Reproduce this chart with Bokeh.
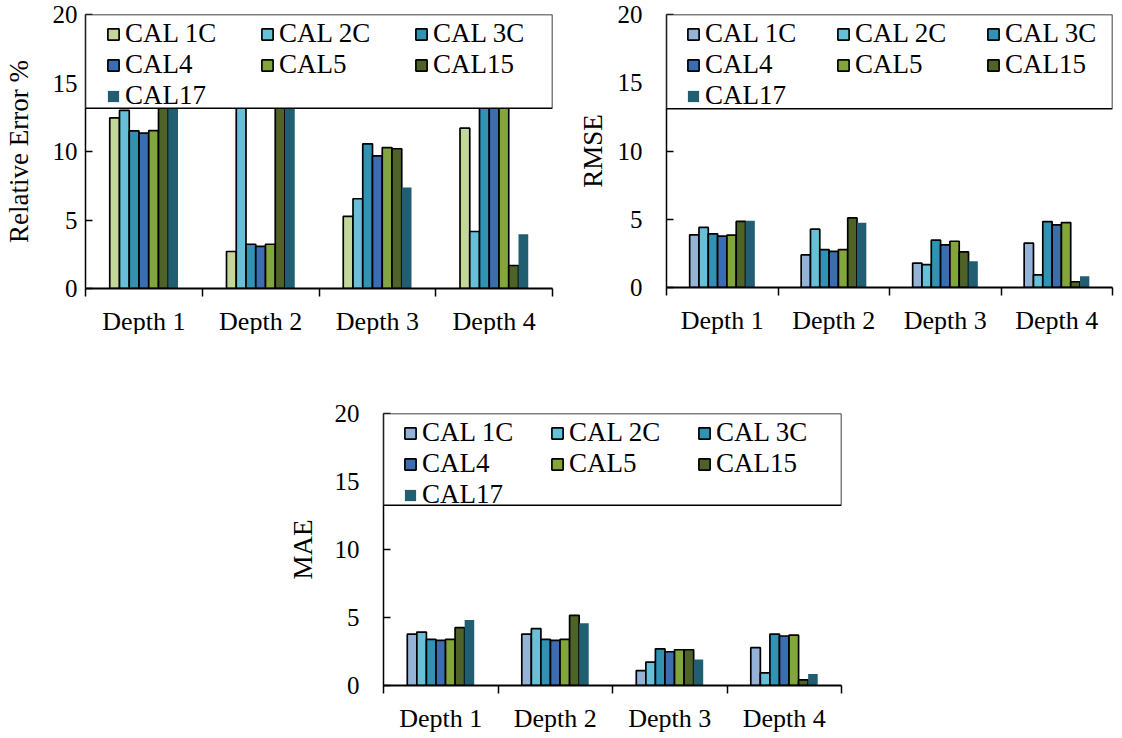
import numpy as np
from bokeh.plotting import figure
from bokeh.models import (ColumnDataSource, Range1d, FixedTicker, Legend, LegendItem,
                          BoxAnnotation, Spacer, CustomJSTickFormatter)
from bokeh.layouts import column, row
from bokeh.transform import dodge
from bokeh.embed import file_html
from bokeh.resources import INLINE

depths = ["Depth 1", "Depth 2", "Depth 3", "Depth 4"]
series = ["CAL 1C", "CAL 2C", "CAL 3C", "CAL4", "CAL5", "CAL15", "CAL17"]
y_ticks = [0, 5, 10, 15, 20]

# Relative Error % (bars above ~13 are hidden behind the legend box)
re_1c = [12.45, 2.70, 5.26, 11.70]
re_2c = [13.00, 16.0, 6.55, 4.16]
re_3c = [11.50, 3.23, 10.56, 15.5]
re_4 = [11.34, 3.07, 9.68, 15.0]
re_5 = [11.53, 3.23, 10.29, 14.5]
re_15 = [15.0, 15.5, 10.20, 1.68]
re_17 = [15.5, 15.0, 7.37, 3.96]

# RMSE
rm_1c = [3.86, 2.39, 1.78, 3.25]
rm_2c = [4.40, 4.27, 1.68, 0.93]
rm_3c = [3.93, 2.78, 3.47, 4.83]
rm_4 = [3.76, 2.64, 3.13, 4.59]
rm_5 = [3.83, 2.78, 3.39, 4.76]
rm_15 = [4.84, 5.10, 2.61, 0.42]
rm_17 = [4.89, 4.74, 1.93, 0.83]

# MAE
ma_1c = [3.78, 3.78, 1.10, 2.78]
ma_2c = [3.93, 4.18, 1.72, 0.93]
ma_3c = [3.39, 3.39, 2.70, 3.78]
ma_4 = [3.32, 3.32, 2.48, 3.64]
ma_5 = [3.39, 3.39, 2.63, 3.71]
ma_15 = [4.25, 5.16, 2.63, 0.42]
ma_17 = [4.82, 4.57, 1.92, 0.84]

colors_re = ["#c4d79b", "#67c0d8", "#3192b3", "#3b6db0", "#82a63c", "#4f6228", "#215e72"]
colors_other = ["#95b3d7", "#67c0d8", "#3192b3", "#3b6db0", "#82a63c", "#4f6228", "#215e72"]
outlined = [True, True, True, True, True, True, False]

FONT = "Liberation Serif"
ROW_H = 31


def make_plot(ylabel, values, colors, width, height, fw, fh, bl, bt, br, bb,
              legend_bottom, leg_dx, leg_dy, label_width, tick_standoff, label_standoff):
    p = figure(width=width, height=height, frame_width=fw, frame_height=fh,
               x_range=Range1d(0, 4), y_range=Range1d(0, 20),
               output_backend="svg", toolbar_location=None,
               min_border_left=bl, min_border_top=bt, min_border_right=br,
               min_border_bottom=bb)
    p.outline_line_color = None
    p.grid.visible = False

    data = {"x": np.arange(len(depths)) + 0.5}
    for s, v in zip(series, values):
        data[s] = v
    src = ColumnDataSource(data)

    bw = 0.0835
    items = []
    for k, (s, c, o) in enumerate(zip(series, colors, outlined)):
        r = p.vbar(x=dodge("x", (k - 3) * bw, range=p.x_range), top=s, width=bw,
                   source=src, fill_color=c,
                   line_color="black" if o else None, line_width=1.7)
        items.append(LegendItem(label=s, renderers=[r]))

    # x axis: labels at category centres, ticks at category boundaries
    xa = p.xaxis[0]
    xa.ticker = FixedTicker(ticks=[0.5, 1.5, 2.5, 3.5], minor_ticks=[0, 1, 2, 3, 4])
    xa.formatter = CustomJSTickFormatter(args=dict(labels=depths),
                                         code="return labels[Math.floor(tick)];")
    xa.major_tick_in = 0
    xa.major_tick_out = 0
    xa.minor_tick_in = 0
    xa.minor_tick_out = 8
    xa.minor_tick_line_width = 1.5
    xa.minor_tick_line_color = "black"
    xa.axis_line_width = 1.8
    xa.axis_line_color = "black"
    xa.major_label_text_font = FONT
    xa.major_label_text_font_size = "26px"
    xa.major_label_text_color = "black"
    xa.major_label_standoff = 10

    ya = p.yaxis[0]
    ya.ticker = FixedTicker(ticks=y_ticks, minor_ticks=[])
    ya.major_tick_in = 7
    ya.major_tick_out = 0
    ya.major_tick_line_width = 1.5
    ya.major_tick_line_color = "black"
    ya.axis_line_width = 1.5
    ya.axis_line_color = "black"
    ya.major_label_text_font = FONT
    ya.major_label_text_font_size = "25px"
    ya.major_label_text_color = "black"
    ya.major_label_standoff = tick_standoff
    ya.axis_label = ylabel
    ya.axis_label_text_font = FONT
    ya.axis_label_text_font_size = "27px"
    ya.axis_label_text_font_style = "normal"
    ya.axis_label_text_color = "black"
    ya.axis_label_standoff = label_standoff

    box = BoxAnnotation(bottom=legend_bottom, fill_color="white", fill_alpha=1.0,
                        line_color="black", line_width=1.5, line_alpha=1.0)
    p.add_layout(box)

    legend = Legend(items=items, ncols=3, orientation="horizontal",
                    location=(leg_dx, fh - leg_dy - 3 * ROW_H),
                    padding=0, spacing=0, margin=0,
                    background_fill_alpha=0, border_line_color=None,
                    label_text_font=FONT, label_text_font_size="27px",
                    label_text_color="black",
                    glyph_width=14, glyph_height=14, label_standoff=5,
                    label_width=label_width, label_height=ROW_H)
    p.add_layout(legend)
    return p


p1 = make_plot("Relative Error %",
               [re_1c, re_2c, re_3c, re_4, re_5, re_15, re_17], colors_re,
               569, 334, 467, 274, 80, 10, 22, 50,
               13.15, 21, 4, 135, 8, 16)
p2 = make_plot("RMSE",
               [rm_1c, rm_2c, rm_3c, rm_4, rm_5, rm_15, rm_17], colors_other,
               537, 334, 446, 273, 88, 14, 3, 47,
               13.1, 20, 4, 131, 24, 7)
p3 = make_plot("MAE",
               [ma_1c, ma_2c, ma_3c, ma_4, ma_5, ma_15, ma_17], colors_other,
               560, 388, 458, 272, 96, 76, 6, 40,
               13.25, 20, 4, 128, 24, 14)

layout = column(row(p1, p2), row(Spacer(width=284, height=388), p3))

open("out.html", "w").write(file_html(layout, INLINE))
